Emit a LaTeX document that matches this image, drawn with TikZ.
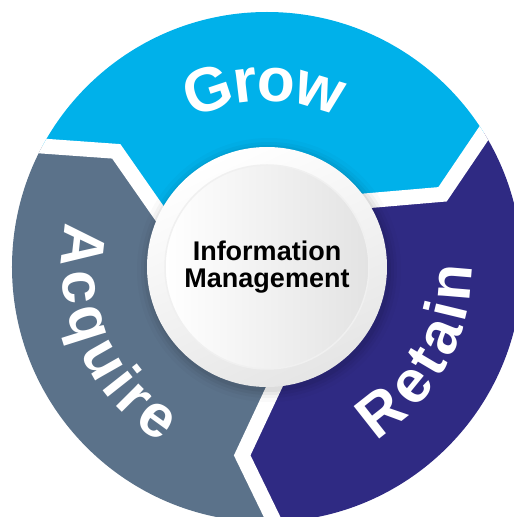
\documentclass[tikz,border=0pt]{standalone}
\usepackage{fontspec}
\newfontfamily\lsans{Liberation Sans}
\usetikzlibrary{calc,decorations.text}
\definecolor{growblue}{RGB}{0,177,234}
\definecolor{acqgray}{RGB}{91,114,138}
\definecolor{retnavy}{RGB}{47,42,131}
\newcommand\bigfont{\lsans\bfseries\fontsize{62}{62}\selectfont}
\newcommand\sidefont{\lsans\bfseries\fontsize{60}{60}\selectfont}
\newcommand\ctrfont{\lsans\bfseries\fontsize{27}{27}\selectfont}
\begin{document}
\begin{tikzpicture}[x=1pt,y=1pt,
  gap/.style={white, line width=15pt, line join=miter},
  arclabel/.style={decorate, decoration={text along path, text={|\bigfont|#1}, text align=center, text color=white}},
  sidelabel/.style={decorate, decoration={text along path, text={|\sidefont|#1}, text align=center, text color=white, raise=-30pt}},
  ctrtext/.style={font=\ctrfont, text=black, inner sep=0pt, anchor=base}]
\useasboundingbox (-267,-250) rectangle (247,267);
\coordinate (C) at (0,0);
\coordinate (I0) at (153.5:120pt); \coordinate (V0) at (142.5:190pt); \coordinate (O0) at (155.5:300pt);
\coordinate (I1) at (33.5:120pt);  \coordinate (V1) at (22.5:190pt);  \coordinate (O1) at (35.5:300pt);
\coordinate (I2) at (-86.5:120pt); \coordinate (V2) at (-97.5:190pt); \coordinate (O2) at (-84.5:300pt);
\begin{scope}
\clip (C) circle (255pt);
\fill[growblue] (C) -- (I0) -- (V0) -- (O0) arc[start angle=155.5, end angle=35.5, radius=300pt] -- (V1) -- (I1) -- cycle;
\fill[retnavy] (C) -- (I1) -- (V1) -- (O1) arc[start angle=35.5, end angle=-84.5, radius=300pt] -- (V2) -- (I2) -- cycle;
\fill[acqgray] (C) -- (I2) -- (V2) -- (O2) arc[start angle=-84.5, end angle=-204.5, radius=300pt] -- (V0) -- (I0) -- cycle;
\draw[gap] ($(V0)!1.4!(I0)$) -- (V0) -- (O0);
\draw[gap] ($(V1)!1.4!(I1)$) -- (V1) -- (O1);
\draw[gap] ($(V2)!1.4!(I2)$) -- (V2) -- (O2);
\end{scope}
\path[arclabel=Grow, decoration={raise=-14pt}] (150.8:180pt) arc[start angle=150.8, end angle=30.8, radius=180pt];
\path[sidelabel=Acquire] (143:175pt) arc[start angle=143, end angle=263, radius=175pt];
\path[sidelabel=Retain] (-88.9:175pt) arc[start angle=-88.9, end angle=31.1, radius=175pt];
\foreach \r/\o in {132/0.02,128/0.03,125/0.04,122/0.05} \fill[black,opacity=\o] (2pt,-3pt) circle (\r pt);
\shade[top color=white, bottom color=black!10, shading angle=25] (C) circle (120pt);
\shade[left color=white, right color=black!11] (C) circle (102pt);
\draw[black!6, line width=1.5pt] (C) circle (102pt);
\node[ctrtext] (info) at (0,7) {Information};
\node[ctrtext] (mgmt) at (0,-20) {Management};
\end{tikzpicture}
\end{document}
